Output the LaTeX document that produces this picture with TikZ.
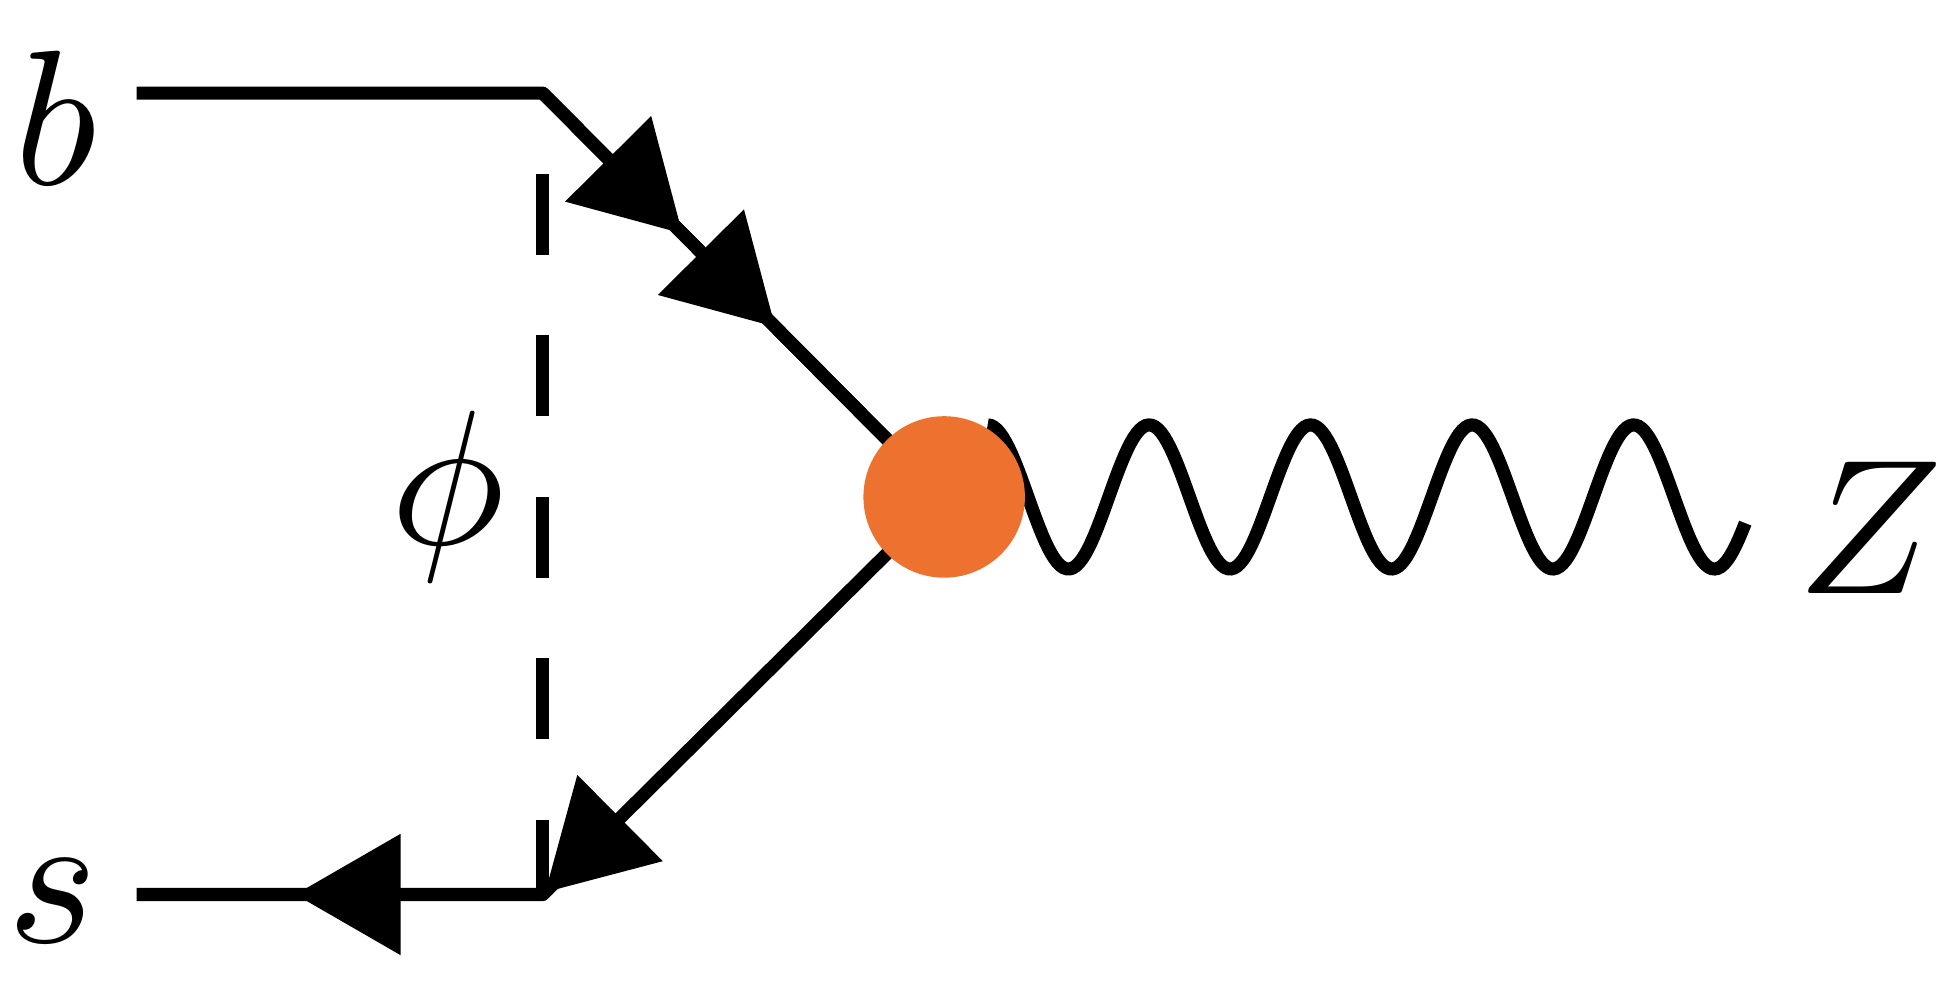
\documentclass[tikz,border=0pt]{standalone}
\usetikzlibrary{arrows.meta,decorations.markings}

\begin{document}
\begin{tikzpicture}
    [ fermion/.style =
      { line width=3pt, postaction={decorate},
        decoration={markings, mark=at position #1 with {\arrow{Triangle[length=0.85cm,width=0.95cm]}}} }
    , scalar/.style =
      { line width=3pt, dash pattern=on 0.65cm off 0.65cm }
    , boson/.style =
      { line width=3pt }
    , blob/.style =
      { circle, fill=blobcol, minimum size=1.3cm, inner sep=0pt }
    , lbl/.style =
      { scale=4.4, transform shape }
    ]
    \definecolor{blobcol}{RGB}{237,114,48}
    \useasboundingbox (0,0) rectangle (15.6,-7.9);

    \coordinate (bin) at (1.1,-0.75);
    \coordinate (top) at (4.37,-0.75);
    \coordinate (bot) at (4.37,-7.2);
    \coordinate (sout) at (1.1,-7.2);
    \coordinate (dtop) at (4.37,-1.4);

    \node [lbl] (b) at (0.45,-0.95) {$b$};
    \node [lbl] (s) at (0.42,-7.25) {$s$};
    \node [lbl] (Z) at (15.05,-4.25) {$Z$};
    \node [lbl] (phi) at (3.6,-4.0) {$\phi$};

    \draw [fermion=0.62, line join=round] (bin) -- (top) -- (7.6,-4.0);
    \draw [fermion=0.58] (top) -- (7.6,-4.0);
    \draw [fermion=0.58, line join=round] (7.6,-4.0) -- (bot) -- (sout);
    \draw [fermion=0.61] (bot) -- (sout);
    \draw [scalar] (dtop) -- (bot);
    \draw [boson] plot [domain=7.95:14.05, samples=250]
      (\x, {-4.0+0.58*cos(360*(\x-7.95)/1.3)});

    \node [blob] (vertex) at (7.6,-4.0) {};
  \end{tikzpicture}
\end{document}
